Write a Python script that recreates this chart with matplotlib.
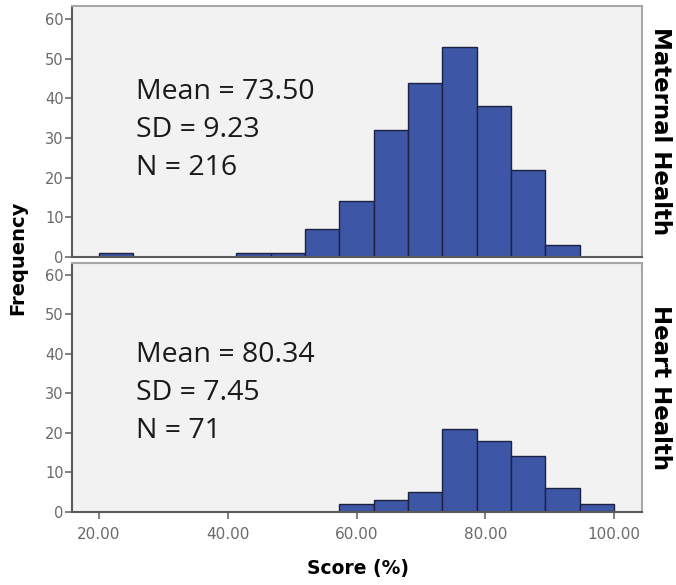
import numpy as np
import matplotlib
matplotlib.use('Agg')
import matplotlib.pyplot as plt

# histogram bins (score %), shared by both panels
bin_edges = np.linspace(20, 100, 16)

# counts
maternal_counts = [1, 0, 0, 0, 1, 1, 7, 14, 32, 44, 53, 38, 22, 3, 0]
heart_counts = [0, 0, 0, 0, 0, 0, 0, 2, 3, 5, 21, 18, 14, 6, 2]

panel_names = ['Maternal Health', 'Heart Health']
stats_text = ['Mean = 73.50\nSD = 9.23\nN = 216',
              'Mean = 80.34\nSD = 7.45\nN = 71']
x_ticks = [20, 40, 60, 80, 100]
y_ticks = [0, 10, 20, 30, 40, 50, 60]

bar_color = '#3d56a6'
edge_color = '#1c2240'
tick_gray = '#6a6a6a'

fig = plt.figure(figsize=(6.76, 5.85), dpi=100)
ax_top = fig.add_axes([0.1065, 0.5607, 0.843, 0.429])
ax_bot = fig.add_axes([0.1065, 0.1253, 0.843, 0.4251])

for ax, counts, name, txt, ymax, ty in zip([ax_top, ax_bot],
                                           [maternal_counts, heart_counts],
                                           panel_names, stats_text,
                                           [63.3, 63.0], [0.506, 0.477]):
    ax.set_facecolor('#f2f2f2')
    widths = np.diff(bin_edges)
    ax.bar(bin_edges[:-1], counts, width=widths, align='edge',
           color=bar_color, edgecolor=edge_color, linewidth=1.0, zorder=2)
    ax.set_xlim(15.8, 104.3)
    ax.set_ylim(0, ymax)
    ax.set_yticks(y_ticks)
    ax.tick_params(axis='y', direction='out', length=5, width=1.2,
                   colors=tick_gray, labelsize=10.5, pad=1)
    for side in ['top', 'right']:
        ax.spines[side].set_color('#a8a8a8')
        ax.spines[side].set_linewidth(1.5)
    for side in ['left', 'bottom']:
        ax.spines[side].set_color('#5a5a5a')
        ax.spines[side].set_linewidth(1.5)
    ax.text(0.112, ty, txt, transform=ax.transAxes, fontsize=20.5,
            family='Open Sans', color='#1a1a1a', va='center', ha='left',
            linespacing=1.47)
    ax.text(1.033, 0.5, name, transform=ax.transAxes, rotation=-90,
            fontsize=16.5, fontweight='bold', family='DejaVu Sans',
            va='center', ha='center')

ax_top.set_xticks([])
ax_bot.set_xticks(x_ticks)
ax_bot.set_xticklabels(['%.2f' % v for v in x_ticks])
ax_bot.tick_params(axis='x', direction='out', length=5, width=1.2,
                   colors=tick_gray, labelsize=11, pad=6)

fig.text(0.026, 0.559, 'Frequency', rotation=90, fontsize=14,
         fontweight='bold', family='DejaVu Sans', va='center', ha='center')
fig.text(0.53, 0.028, 'Score (%)', fontsize=13.5, fontweight='bold',
         family='DejaVu Sans', va='center', ha='center')

fig.savefig('out.png', dpi=100)
